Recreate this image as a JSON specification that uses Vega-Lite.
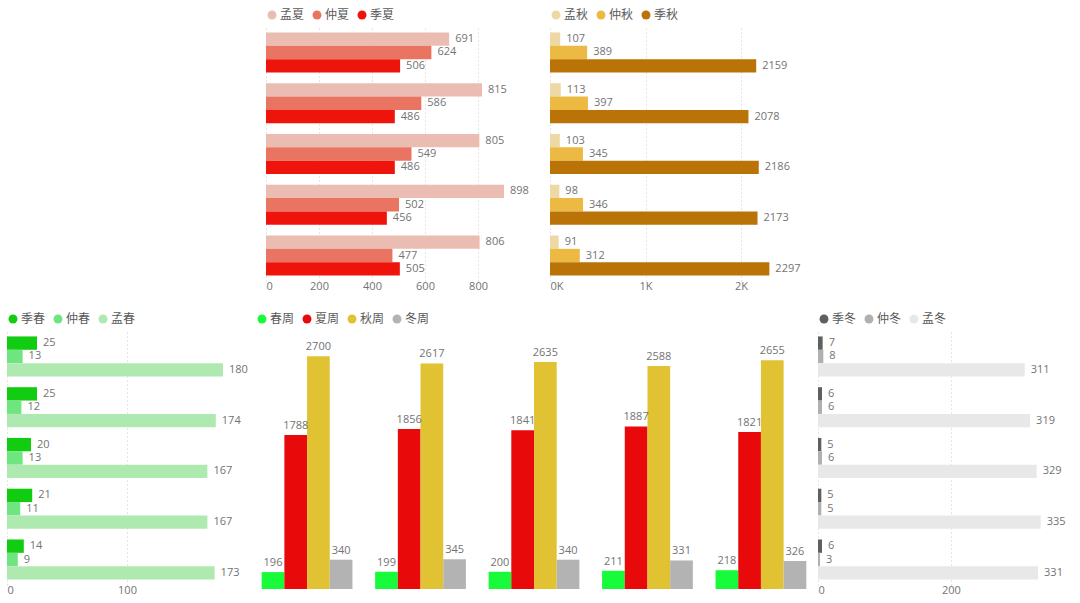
{
  "$schema": "https://vega.github.io/schema/vega-lite/v6.json",
  "padding": {"left": 7, "top": 9, "right": 5, "bottom": 5},
  "background": "#ffffff",
  "bounds": "full",
  "spacing": 22,
  "resolve": {"scale": {"color": "independent", "x": "independent", "y": "independent", "xOffset": "independent", "yOffset": "independent"}, "legend": {"color": "independent"}},
  "vconcat": [
    {
      "bounds": "flush",
      "spacing": 24,
      "resolve": {"scale": {"color": "independent", "x": "independent", "y": "independent", "xOffset": "independent", "yOffset": "independent"}, "legend": {"color": "independent"}},
      "hconcat": [
        {
          "width": 235, "height": 254,
          "data": {"values": []},
          "mark": {"type": "point", "opacity": 0},
          "encoding": {}
        },
        {
          "width": 260, "height": 254,
          "data": {"values": [
            {"g": "1", "s": "孟夏", "v": 691}, {"g": "1", "s": "仲夏", "v": 624}, {"g": "1", "s": "季夏", "v": 506},
            {"g": "2", "s": "孟夏", "v": 815}, {"g": "2", "s": "仲夏", "v": 586}, {"g": "2", "s": "季夏", "v": 486},
            {"g": "3", "s": "孟夏", "v": 805}, {"g": "3", "s": "仲夏", "v": 549}, {"g": "3", "s": "季夏", "v": 486},
            {"g": "4", "s": "孟夏", "v": 898}, {"g": "4", "s": "仲夏", "v": 502}, {"g": "4", "s": "季夏", "v": 456},
            {"g": "5", "s": "孟夏", "v": 806}, {"g": "5", "s": "仲夏", "v": 477}, {"g": "5", "s": "季夏", "v": 505}
          ]},
          "encoding": {
            "y": {"field": "g", "type": "nominal", "axis": null, "scale": {"paddingInner": 0.21, "paddingOuter": 0.107}},
            "yOffset": {"field": "s", "type": "nominal", "sort": ["孟夏", "仲夏", "季夏"]},
            "x": {"field": "v", "type": "quantitative", "scale": {"domain": [0, 981], "nice": false}, "axis": {"values": [0, 200, 400, 600, 800], "title": null}}
          },
          "layer": [
            {"mark": {"type": "bar"}, "encoding": {"color": {"field": "s", "type": "nominal", "scale": {"domain": ["孟夏", "仲夏", "季夏"], "range": ["#ebbdb2", "#ea7462", "#ee140c"]}}}},
            {"mark": {"type": "text", "align": "left", "baseline": "middle", "dx": 6}, "encoding": {"text": {"field": "v", "type": "quantitative"}}}
          ]
        },
        {
          "width": 240, "height": 254,
          "data": {"values": [
            {"g": "1", "s": "孟秋", "v": 107}, {"g": "1", "s": "仲秋", "v": 389}, {"g": "1", "s": "季秋", "v": 2159},
            {"g": "2", "s": "孟秋", "v": 113}, {"g": "2", "s": "仲秋", "v": 397}, {"g": "2", "s": "季秋", "v": 2078},
            {"g": "3", "s": "孟秋", "v": 103}, {"g": "3", "s": "仲秋", "v": 345}, {"g": "3", "s": "季秋", "v": 2186},
            {"g": "4", "s": "孟秋", "v": 98}, {"g": "4", "s": "仲秋", "v": 346}, {"g": "4", "s": "季秋", "v": 2173},
            {"g": "5", "s": "孟秋", "v": 91}, {"g": "5", "s": "仲秋", "v": 312}, {"g": "5", "s": "季秋", "v": 2297}
          ]},
          "encoding": {
            "y": {"field": "g", "type": "nominal", "axis": null, "scale": {"paddingInner": 0.21, "paddingOuter": 0.107}},
            "yOffset": {"field": "s", "type": "nominal", "sort": ["孟秋", "仲秋", "季秋"]},
            "x": {"field": "v", "type": "quantitative", "scale": {"domain": [0, 2513], "nice": false}, "axis": {"values": [0, 1000, 2000], "title": null, "labelExpr": "datum.value / 1000 + 'K'"}}
          },
          "layer": [
            {"mark": {"type": "bar"}, "encoding": {"color": {"field": "s", "type": "nominal", "scale": {"domain": ["孟秋", "仲秋", "季秋"], "range": ["#eed9a6", "#ecb943", "#b97306"]}}}},
            {"mark": {"type": "text", "align": "left", "baseline": "middle", "dx": 6}, "encoding": {"text": {"field": "v", "type": "quantitative"}}}
          ]
        }
      ]
    },
    {
      "bounds": "flush",
      "spacing": 6,
      "resolve": {"scale": {"color": "independent", "x": "independent", "y": "independent", "xOffset": "independent", "yOffset": "independent"}, "legend": {"color": "independent"}},
      "hconcat": [
        {
          "width": 243, "height": 254,
          "data": {"values": [
            {"g": "1", "s": "季春", "v": 25}, {"g": "1", "s": "仲春", "v": 13}, {"g": "1", "s": "孟春", "v": 180},
            {"g": "2", "s": "季春", "v": 25}, {"g": "2", "s": "仲春", "v": 12}, {"g": "2", "s": "孟春", "v": 174},
            {"g": "3", "s": "季春", "v": 20}, {"g": "3", "s": "仲春", "v": 13}, {"g": "3", "s": "孟春", "v": 167},
            {"g": "4", "s": "季春", "v": 21}, {"g": "4", "s": "仲春", "v": 11}, {"g": "4", "s": "孟春", "v": 167},
            {"g": "5", "s": "季春", "v": 14}, {"g": "5", "s": "仲春", "v": 9}, {"g": "5", "s": "孟春", "v": 173}
          ]},
          "encoding": {
            "y": {"field": "g", "type": "nominal", "axis": null, "scale": {"paddingInner": 0.21, "paddingOuter": 0.107}},
            "yOffset": {"field": "s", "type": "nominal", "sort": ["季春", "仲春", "孟春"]},
            "x": {"field": "v", "type": "quantitative", "scale": {"domain": [0, 202.5], "nice": false}, "axis": {"values": [0, 100], "title": null}}
          },
          "layer": [
            {"mark": {"type": "bar"}, "encoding": {"color": {"field": "s", "type": "nominal", "scale": {"domain": ["季春", "仲春", "孟春"], "range": ["#12cc12", "#6fe57f", "#aeeab0"]}}}},
            {"mark": {"type": "text", "align": "left", "baseline": "middle", "dx": 6}, "encoding": {"text": {"field": "v", "type": "quantitative"}}}
          ]
        },
        {
          "width": 556, "height": 258,
          "data": {"values": [
            {"g": "1", "s": "春周", "v": 196}, {"g": "1", "s": "夏周", "v": 1788}, {"g": "1", "s": "秋周", "v": 2700}, {"g": "1", "s": "冬周", "v": 340},
            {"g": "2", "s": "春周", "v": 199}, {"g": "2", "s": "夏周", "v": 1856}, {"g": "2", "s": "秋周", "v": 2617}, {"g": "2", "s": "冬周", "v": 345},
            {"g": "3", "s": "春周", "v": 200}, {"g": "3", "s": "夏周", "v": 1841}, {"g": "3", "s": "秋周", "v": 2635}, {"g": "3", "s": "冬周", "v": 340},
            {"g": "4", "s": "春周", "v": 211}, {"g": "4", "s": "夏周", "v": 1887}, {"g": "4", "s": "秋周", "v": 2588}, {"g": "4", "s": "冬周", "v": 331},
            {"g": "5", "s": "春周", "v": 218}, {"g": "5", "s": "夏周", "v": 1821}, {"g": "5", "s": "秋周", "v": 2655}, {"g": "5", "s": "冬周", "v": 326}
          ]},
          "encoding": {
            "x": {"field": "g", "type": "nominal", "axis": null, "scale": {"paddingInner": 0.2, "paddingOuter": 0.05}},
            "xOffset": {"field": "s", "type": "nominal", "sort": ["春周", "夏周", "秋周", "冬周"]},
            "y": {"field": "v", "type": "quantitative", "axis": null, "scale": {"domain": [0, 2994], "nice": false}}
          },
          "layer": [
            {"mark": {"type": "bar"}, "encoding": {"color": {"field": "s", "type": "nominal", "scale": {"domain": ["春周", "夏周", "秋周", "冬周"], "range": ["#17fb3a", "#e8090a", "#e0c233", "#b3b3b3"]}}}},
            {"mark": {"type": "text", "align": "center", "baseline": "bottom", "dy": -4}, "encoding": {"text": {"field": "v", "type": "quantitative"}}}
          ]
        },
        {
          "width": 250, "height": 254,
          "data": {"values": [
            {"g": "1", "s": "季冬", "v": 7}, {"g": "1", "s": "仲冬", "v": 8}, {"g": "1", "s": "孟冬", "v": 311},
            {"g": "2", "s": "季冬", "v": 6}, {"g": "2", "s": "仲冬", "v": 6}, {"g": "2", "s": "孟冬", "v": 319},
            {"g": "3", "s": "季冬", "v": 5}, {"g": "3", "s": "仲冬", "v": 6}, {"g": "3", "s": "孟冬", "v": 329},
            {"g": "4", "s": "季冬", "v": 5}, {"g": "4", "s": "仲冬", "v": 5}, {"g": "4", "s": "孟冬", "v": 335},
            {"g": "5", "s": "季冬", "v": 6}, {"g": "5", "s": "仲冬", "v": 3}, {"g": "5", "s": "孟冬", "v": 331}
          ]},
          "encoding": {
            "y": {"field": "g", "type": "nominal", "axis": null, "scale": {"paddingInner": 0.21, "paddingOuter": 0.107}},
            "yOffset": {"field": "s", "type": "nominal", "sort": ["季冬", "仲冬", "孟冬"]},
            "x": {"field": "v", "type": "quantitative", "scale": {"domain": [0, 376], "nice": false}, "axis": {"values": [0, 200], "title": null}}
          },
          "layer": [
            {"mark": {"type": "bar"}, "encoding": {"color": {"field": "s", "type": "nominal", "scale": {"domain": ["季冬", "仲冬", "孟冬"], "range": ["#5f5f5f", "#b0b0b0", "#e8e8e8"]}}}},
            {"mark": {"type": "text", "align": "left", "baseline": "middle", "dx": 6}, "encoding": {"text": {"field": "v", "type": "quantitative"}}}
          ]
        }
      ]
    }
  ],
  "config": {
    "view": {"stroke": null},
    "font": "Open Sans, Noto Sans CJK SC, sans-serif",
    "text": {"fontSize": 11, "color": "#737373"},
    "axis": {"domain": false, "ticks": false, "labelFontSize": 11, "labelColor": "#737373", "labelPadding": -1, "grid": true, "gridDash": [1, 3], "gridColor": "#cccccc", "gridWidth": 1},
    "legend": {"orient": "top", "direction": "horizontal", "title": null, "symbolType": "circle", "symbolSize": 80, "labelFontSize": 12, "labelColor": "#595959", "columnPadding": 6, "labelOffset": 2, "offset": 6, "padding": 0}
  }
}
